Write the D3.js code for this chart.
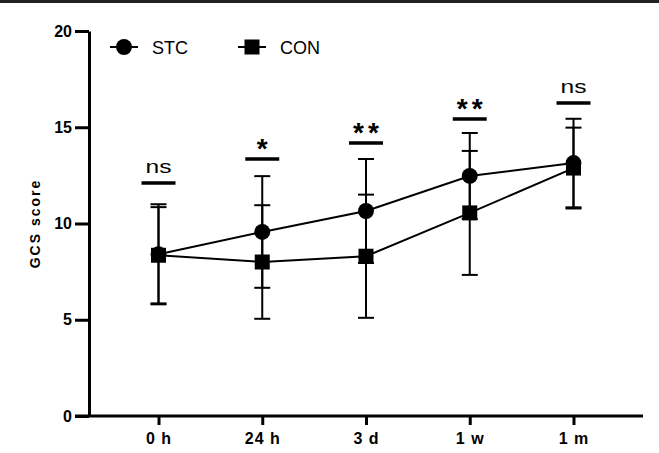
<!DOCTYPE html>
<html lang="en">
<head>
    <meta charset="UTF-8">
    <title>GCS score</title>
    <script src="https://d3js.org/d3.v7.min.js"></script>
    <style>
        body { margin: 0; background: #fff; }
    </style>
</head>
<body>
    <svg width="659" height="453"></svg>
    <script>
        var timepoints = ["0 h", "24 h", "3 d", "1 w", "1 m"];
        var stcMean = [8.4, 9.56, 10.65, 12.47, 13.14];
        var stcSd = [2.6, 2.9, 2.7, 2.23, 2.3];
        var conMean = [8.35, 8.0, 8.3, 10.55, 12.88];
        var conSd = [2.5, 2.95, 3.2, 3.22, 2.1];
        var sigLabels = ["ns", "*", "**", "**", "ns"];
        var sigLevel = [12.1, 13.35, 14.18, 15.43, 16.26];
        var yTicks = [0, 5, 10, 15, 20];

        var font = "Arial, 'Liberation Sans', sans-serif";
        var svg = d3.select("svg");

        // top rule
        svg.append("rect").attr("x", 0).attr("y", 0).attr("width", 659).attr("height", 3).attr("fill", "#222");

        var x = d3.scalePoint().domain(timepoints).range([89, 643]).padding(0.67);
        var y = d3.scaleLinear().domain([0, 20]).range([416, 31]);

        var xAxis = svg.append("g")
            .attr("transform", "translate(0,416)")
            .call(d3.axisBottom(x).tickSize(9).tickPadding(8).tickSizeOuter(0));
        xAxis.select(".domain").attr("stroke", "#000").attr("stroke-width", 3).attr("d", "M75,0H643");
        xAxis.selectAll(".tick line").attr("stroke-width", 3);
        xAxis.selectAll(".tick text")
            .style("font-family", font).style("font-weight", "bold").style("font-size", "16px")
            .style("letter-spacing", "1px").attr("fill", "#000");

        var yAxis = svg.append("g")
            .attr("transform", "translate(89,0)")
            .call(d3.axisLeft(y).tickValues(yTicks).tickSize(14).tickPadding(3).tickSizeOuter(0));
        yAxis.select(".domain").attr("stroke", "#000").attr("stroke-width", 3);
        yAxis.selectAll(".tick line").attr("stroke-width", 3);
        yAxis.selectAll(".tick text")
            .style("font-family", font).style("font-weight", "bold").style("font-size", "16px")
            .attr("fill", "#000");

        svg.append("text")
            .attr("transform", "translate(40," + y(10) + ") rotate(-90)")
            .attr("text-anchor", "middle")
            .style("font-family", font).style("font-weight", "bold").style("font-size", "14px")
            .style("letter-spacing", "2px")
            .text("GCS score");

        var series = [
            { name: "STC", mean: stcMean, sd: stcSd, shape: d3.symbolCircle, size: 200 },
            { name: "CON", mean: conMean, sd: conSd, shape: d3.symbolSquare, size: 225 }
        ];

        var line = d3.line()
            .x(function(d, i) { return x(timepoints[i]); })
            .y(function(d) { return y(d); });

        // error bars
        series.forEach(function(s) {
            var g = svg.append("g");
            s.mean.forEach(function(m, i) {
                var cx = x(timepoints[i]);
                g.append("line").attr("x1", cx).attr("x2", cx)
                    .attr("y1", y(m - s.sd[i])).attr("y2", y(m + s.sd[i]))
                    .attr("stroke", "#000").attr("stroke-width", 2);
                [m - s.sd[i], m + s.sd[i]].forEach(function(v) {
                    g.append("line").attr("x1", cx - 8).attr("x2", cx + 8)
                        .attr("y1", y(v)).attr("y2", y(v))
                        .attr("stroke", "#000").attr("stroke-width", 2);
                });
            });
        });

        series.forEach(function(s) {
            svg.append("path").datum(s.mean)
                .attr("d", line)
                .attr("fill", "none").attr("stroke", "#000").attr("stroke-width", 2);
        });

        series.forEach(function(s) {
            svg.selectAll(null).data(s.mean).enter().append("path")
                .attr("d", d3.symbol().type(s.shape).size(s.size))
                .attr("transform", function(d, i) { return "translate(" + x(timepoints[i]) + "," + y(d) + ")"; })
                .attr("fill", "#000");
        });

        // significance marks
        timepoints.forEach(function(t, i) {
            var cx = x(t);
            svg.append("line").attr("x1", cx - 17).attr("x2", cx + 17)
                .attr("y1", y(sigLevel[i])).attr("y2", y(sigLevel[i]))
                .attr("stroke", "#000").attr("stroke-width", 3.5);
            var ns = sigLabels[i] === "ns";
            var txt = svg.append("text")
                .attr("x", ns ? cx : cx + 2)
                .attr("y", y(sigLevel[i]) - (ns ? 10 : 1))
                .attr("text-anchor", "middle")
                .style("font-family", font)
                .style("font-size", ns ? "19px" : "28px")
                .style("font-weight", ns ? "normal" : "bold")
                .style("letter-spacing", ns ? "0px" : "4px")
                .text(sigLabels[i]);
            if (ns) txt.attr("textLength", 26).attr("lengthAdjust", "spacingAndGlyphs");
        });

        // legend
        var legend = svg.append("g");
        var lx = [124, 252];
        series.forEach(function(s, i) {
            var g = legend.append("g").attr("transform", "translate(" + lx[i] + ",47)");
            g.append("line").attr("x1", -14).attr("x2", 14).attr("stroke", "#000").attr("stroke-width", 2);
            g.append("path").attr("d", d3.symbol().type(s.shape).size(s.size)).attr("fill", "#000");
            g.append("text").attr("x", 28).attr("y", 7)
                .style("font-family", font).style("font-size", "18px")
                .text(s.name);
        });
    </script>
</body>
</html>
